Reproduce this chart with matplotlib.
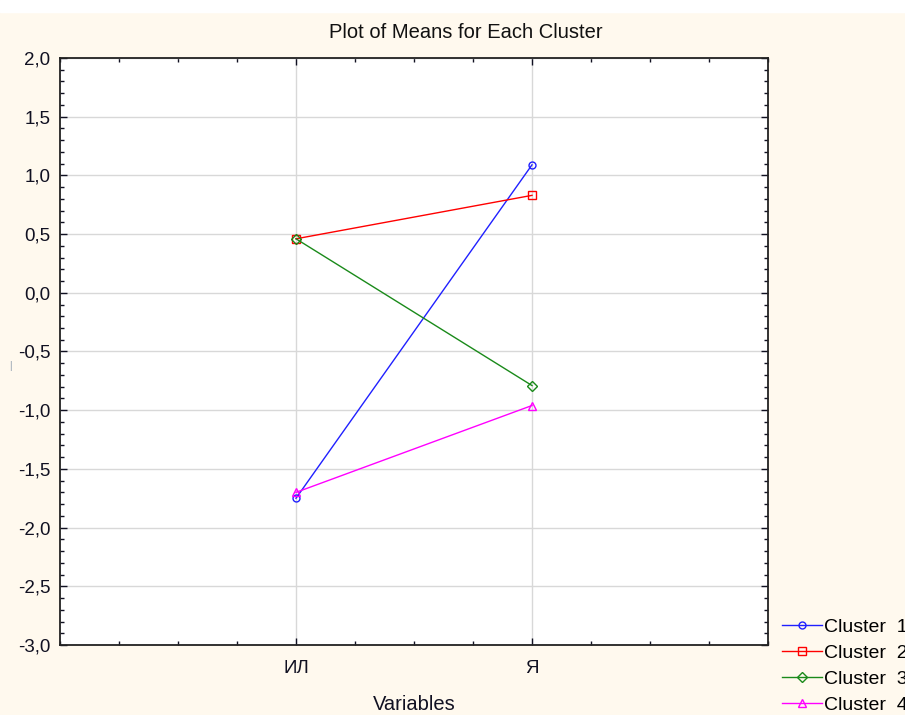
import matplotlib.pyplot as plt
from matplotlib.ticker import MultipleLocator, FixedLocator, FuncFormatter
from matplotlib.patches import Rectangle

# Data
variables = ["ИЛ", "Я"]
cluster_names = ["Cluster  1", "Cluster  2", "Cluster  3", "Cluster  4"]
cluster_1 = [-1.75, 1.09]
cluster_2 = [0.46, 0.83]
cluster_3 = [0.46, -0.79]
cluster_4 = [-1.70, -0.96]
y_ticks = [-3.0, -2.5, -2.0, -1.5, -1.0, -0.5, 0.0, 0.5, 1.0, 1.5, 2.0]


def main():
    plt.rcParams['font.family'] = ['Liberation Sans', 'DejaVu Sans']
    bg = '#fff9ee'
    fig = plt.figure(figsize=(9.05, 7.15), dpi=100, facecolor=bg)
    # white strip along the top of the window
    fig.patches.append(Rectangle((0, 1 - 12 / 715), 1, 12 / 715,
                                 transform=fig.transFigure, color='white', zorder=0))
    ax = fig.add_axes([60 / 905, 1 - 645 / 715, 708 / 905, 587 / 715])
    ax.set_facecolor('white')

    x = [1, 2]
    series = [cluster_1, cluster_2, cluster_3, cluster_4]
    colors = ['#2020ff', '#ff0000', '#1a8a1a', '#ff00ff']
    markers = ['o', 's', 'D', '^']
    sizes = [5, 6, 5, 5.5]
    for vals, name, c, m, s in zip(series, cluster_names, colors, markers, sizes):
        ax.plot(x, vals, color=c, lw=1.0, marker=m, ms=s, mfc='none',
                mec=c, mew=1.0, label=name, zorder=3)

    ax.set_xlim(0, 3)
    ax.set_ylim(-3.0, 2.0)
    ax.set_xticks(x, variables)
    ax.xaxis.set_minor_locator(MultipleLocator(0.25))
    ax.yaxis.set_major_locator(FixedLocator(y_ticks))
    ax.yaxis.set_minor_locator(MultipleLocator(0.1))
    ax.yaxis.set_major_formatter(FuncFormatter(lambda v, p: f"{v:.1f}".replace('.', ',')))

    ax.grid(True, which='major', color='#d8d8d8', lw=1.0, zorder=0)
    ax.tick_params(which='both', direction='in', top=True, right=True,
                   labelsize=13.5, colors='#111122', width=1.0)
    ax.tick_params(which='major', length=5)
    ax.tick_params(which='minor', length=3)
    ax.tick_params(axis='y', pad=7)
    ax.tick_params(axis='x', pad=11)
    for sp in ax.spines.values():
        sp.set_linewidth(1.3)
        sp.set_color('#222222')

    # title sits a bit right of the axes centre in the original
    fig.text(466 / 905, 1 - 33 / 715, "Plot of Means for Each Cluster",
             fontsize=14.5, color='#111111', ha='center', va='center')
    ax.set_xlabel("Variables", fontsize=14.5, labelpad=13, color='#111122')
    fig.text(10 / 905, 1 - 366 / 715, "|", fontsize=7, color='#8899aa',
             ha='center', va='center')

    ax.legend(loc='upper left', bbox_to_anchor=(782 / 905, 1 - 618 / 715),
              bbox_transform=fig.transFigure, frameon=False, fontsize=14,
              handlelength=2.06, handletextpad=0.1, labelspacing=0.44,
              borderaxespad=0, borderpad=0)

    fig.savefig("out.png", dpi=100, facecolor=bg)


if __name__ == "__main__":
    main()
